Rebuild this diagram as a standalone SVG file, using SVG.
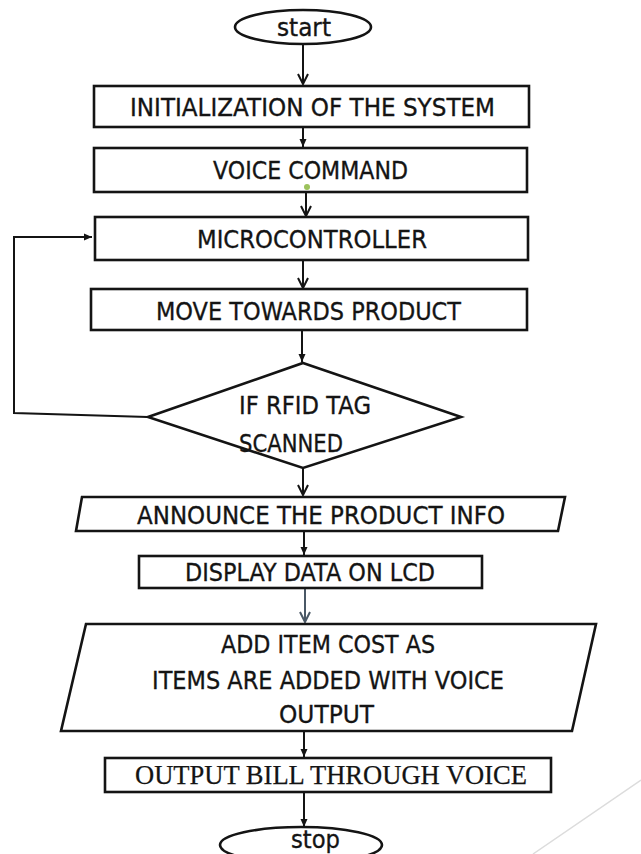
<svg xmlns="http://www.w3.org/2000/svg" width="641" height="854" viewBox="0 0 641 854">
  <style>
    .shape { fill: #ffffff; stroke: #141414; stroke-width: 2.6; stroke-linejoin: miter; }
    .lbl { font-family: "DejaVu Sans", "Liberation Sans", sans-serif; font-size: 25.5px; fill: #141414; stroke: #141414; stroke-width: 0.35; }
    .serif { font-family: "Liberation Serif", "Times New Roman", serif; font-size: 27px; fill: #141414; stroke: #141414; stroke-width: 0.25; }
    .link { fill: none; stroke: #141414; stroke-width: 2; }
    .link-grey { fill: none; stroke: #4a5866; stroke-width: 2; }
  </style>
  <defs>
    <marker id="vee" viewBox="0 0 12 12" refX="11" refY="6" markerWidth="12" markerHeight="12" markerUnits="userSpaceOnUse" orient="auto">
      <path d="M1,1 L11,6 L1,11" fill="none" stroke="#141414" stroke-width="2"/>
    </marker>
    <marker id="vee-grey" viewBox="0 0 12 12" refX="11" refY="6" markerWidth="12" markerHeight="12" markerUnits="userSpaceOnUse" orient="auto">
      <path d="M1,1 L11,6 L1,11" fill="none" stroke="#4a5866" stroke-width="2"/>
    </marker>
    <marker id="tri" viewBox="0 0 8 8" refX="8" refY="4" markerWidth="8" markerHeight="8" markerUnits="userSpaceOnUse" orient="auto">
      <path d="M0,0.5 L8,4 L0,7.5 Z" fill="#141414"/>
    </marker>
  </defs>
  <rect width="641" height="854" fill="#ffffff"/>

  <!-- faint decorative stroke, bottom right -->
  <line x1="533" y1="854" x2="641" y2="780" stroke="#dcdcdc" stroke-width="1.5"/>

  <g id="connectors">
    <path class="link" d="M303,44 V84" marker-end="url(#vee)"/>
    <path class="link" d="M303,127 V147" marker-end="url(#tri)"/>
    <path class="link" d="M306,192 V216" marker-end="url(#vee)"/>
    <path class="link" d="M303,260 V288" marker-end="url(#vee)"/>
    <path class="link" d="M302,330 V362" marker-end="url(#tri)"/>
    <path class="link" d="M148,417 L14,413 L14,237 L92,237" marker-end="url(#tri)"/>
    <path class="link" d="M303,468 V495" marker-end="url(#vee)"/>
    <path class="link" d="M304,531 V555" marker-end="url(#tri)"/>
    <path class="link-grey" d="M305,588 V622" marker-end="url(#vee-grey)"/>
    <path class="link" d="M304,731 V757" marker-end="url(#tri)"/>
    <path class="link" d="M304,792 V827" marker-end="url(#tri)"/>
  </g>

  <g id="start">
    <ellipse class="shape" cx="303" cy="27" rx="68" ry="17"/>
    <text class="lbl" x="277" y="36" textLength="54" lengthAdjust="spacingAndGlyphs">start</text>
  </g>

  <g id="init">
    <rect class="shape" x="94" y="86" width="435" height="41"/>
    <text class="lbl" x="130" y="116" textLength="365" lengthAdjust="spacingAndGlyphs">INITIALIZATION OF THE SYSTEM</text>
  </g>

  <g id="voice-command">
    <rect class="shape" x="94" y="148" width="433" height="44"/>
    <text class="lbl" x="213" y="179" textLength="195" lengthAdjust="spacingAndGlyphs">VOICE COMMAND</text>
    <circle cx="307" cy="187" r="3" fill="#9cc25c"/>
  </g>

  <g id="microcontroller">
    <rect class="shape" x="95" y="217" width="433" height="43"/>
    <text class="lbl" x="197" y="248" textLength="230" lengthAdjust="spacingAndGlyphs">MICROCONTROLLER</text>
  </g>

  <g id="move">
    <rect class="shape" x="91" y="289" width="436" height="41"/>
    <text class="lbl" x="156" y="320" textLength="305" lengthAdjust="spacingAndGlyphs">MOVE TOWARDS PRODUCT</text>
  </g>

  <g id="rfid-check">
    <polygon class="shape" points="303,363 461,417 303,468 148,417"/>
    <text class="lbl" x="239" y="414" textLength="132" lengthAdjust="spacingAndGlyphs">IF RFID TAG</text>
    <text class="lbl" x="239" y="452" textLength="104" lengthAdjust="spacingAndGlyphs">SCANNED</text>
  </g>

  <g id="announce">
    <polygon class="shape" points="82,497 565,497 558,531 76,531"/>
    <text class="lbl" x="137" y="524" textLength="368" lengthAdjust="spacingAndGlyphs">ANNOUNCE THE PRODUCT INFO</text>
  </g>

  <g id="display">
    <rect class="shape" x="139" y="556" width="343" height="32"/>
    <text class="lbl" x="185" y="581" textLength="250" lengthAdjust="spacingAndGlyphs">DISPLAY DATA ON LCD</text>
  </g>

  <g id="add-cost">
    <polygon class="shape" points="86,624 596,624 572,731 61,731"/>
    <text class="lbl" x="221" y="653" textLength="214" lengthAdjust="spacingAndGlyphs">ADD ITEM COST AS</text>
    <text class="lbl" x="152" y="689" textLength="352" lengthAdjust="spacingAndGlyphs">ITEMS ARE ADDED WITH VOICE</text>
    <text class="lbl" x="279" y="723" textLength="95" lengthAdjust="spacingAndGlyphs">OUTPUT</text>
  </g>

  <g id="output-bill">
    <rect class="shape" x="105" y="758" width="446" height="34"/>
    <text class="serif" x="135" y="784" textLength="392" lengthAdjust="spacingAndGlyphs">OUTPUT BILL THROUGH VOICE</text>
  </g>

  <g id="stop">
    <ellipse class="shape" cx="301" cy="845" rx="81" ry="18"/>
    <text class="lbl" x="291" y="848" textLength="49" lengthAdjust="spacingAndGlyphs">stop</text>
  </g>
</svg>
